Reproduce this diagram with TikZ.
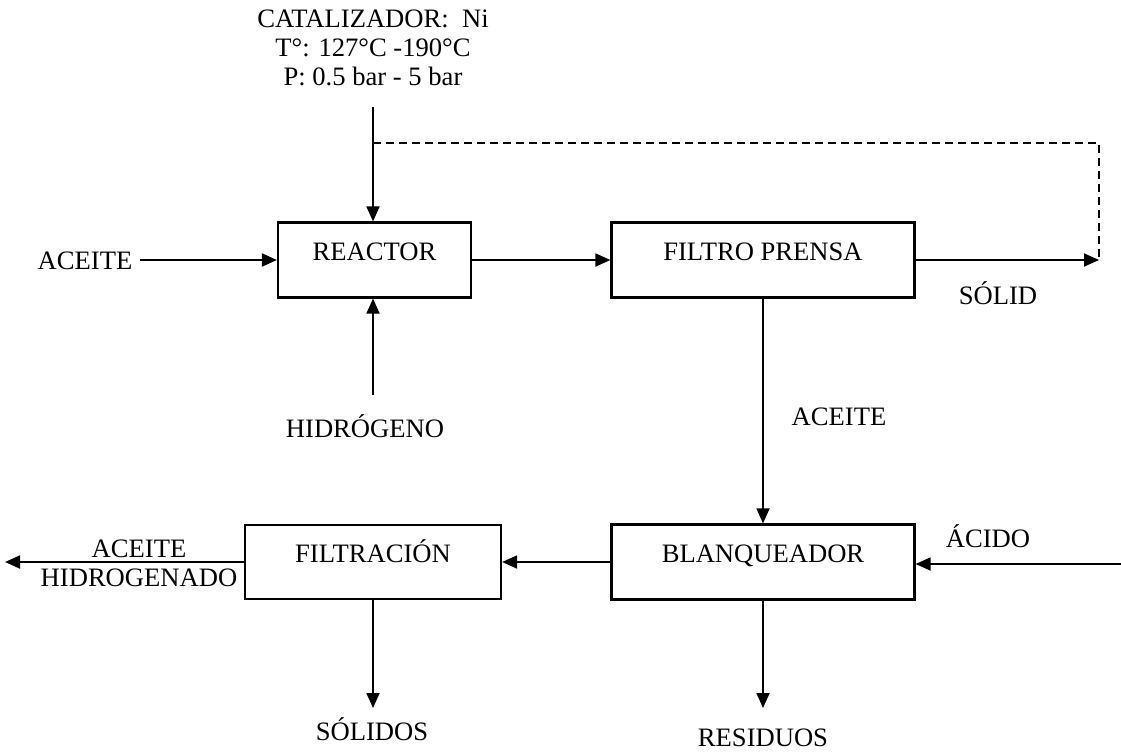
\documentclass[tikz,border=0pt]{standalone}
\usepackage{fontspec}
\setmainfont{Liberation Serif}
\usetikzlibrary{arrows.meta}

\begin{document}
\begin{tikzpicture}[x=0.5pt,y=-0.5pt,
		font=\fontsize{13.3}{14.5}\selectfont,
		box/.style={draw, line width=1.1pt, text height=1.6ex, text depth=1.6ex, inner sep=0pt},
		flow/.style={line width=0.9pt, -{Triangle[length=7.5pt,width=6.5pt]}},
		recycle/.style={line width=0.9pt, dash pattern=on 4pt off 2.5pt},
		lbl/.style={inner sep=0pt, anchor=base}]
		\useasboundingbox (0,0) rectangle (1121,751);
		% equipos
		\node[box, minimum width=96.5pt, minimum height=37.5pt] (reactor) at (374.5,260) {REACTOR};
		\node[box, minimum width=151.5pt, minimum height=37.5pt] (filtro) at (763,260) {FILTRO PRENSA};
		\node[box, minimum width=128pt, minimum height=37pt] (filtracion) at (373,562) {FILTRACIÓN};
		\node[box, minimum width=151.5pt, minimum height=37.5pt] (blanq) at (763,562) {BLANQUEADOR};
		% corrientes
		\node[lbl, align=center] (cond) at (373,85) {CATALIZADOR:\ \ Ni\\T°: 127°C -190°C\\P: 0.5 bar - 5 bar};
		\node[lbl] (aceite1) at (85,269) {ACEITE};
		\node[lbl] (hidro) at (365,437) {HIDRÓGENO};
		\node[lbl] (aceite2) at (839,425) {ACEITE};
		\node[lbl] (solid) at (998,304) {SÓLID};
		\node[lbl] (acido) at (988,547) {ÁCIDO};
		\node[lbl, align=center] (acehid) at (139,586) {ACEITE\\HIDROGENADO};
		\node[lbl] (solidos) at (372,740) {SÓLIDOS};
		\node[lbl] (resid) at (763,746) {RESIDUOS};
		\coordinate (ctop) at (373,107);
		\coordinate (crec) at (373,143);
		\coordinate (cret) at (1099,143);
		\coordinate (csol) at (1099,260);
		\coordinate (chid) at (373,395);
		\coordinate (cacido) at (1121,564);
		\coordinate (cout) at (5,562);
		\coordinate (csolidos) at (373,708);
		\coordinate (cresid) at (763,708);
		\draw[flow] (ctop) -- (ctop |- reactor.north);
		\draw[recycle] (crec) -- (cret) -- (csol);
		\draw[flow] ([xshift=3.5pt]aceite1.east |- reactor.west) -- (reactor.west);
		\draw[flow] (chid) -- (chid |- reactor.south);
		\draw[flow] (reactor) -- (filtro);
		\draw[flow] (filtro.east) -- (csol);
		\draw[flow] (filtro) -- (blanq);
		\draw[flow] (cacido) -- (cacido -| blanq.east);
		\draw[flow] (blanq) -- (filtracion);
		\draw[flow] (filtracion.west) -- (cout);
		\draw[flow] (filtracion.south) -- (csolidos);
		\draw[flow] (blanq.south) -- (cresid);
	\end{tikzpicture}
\end{document}
